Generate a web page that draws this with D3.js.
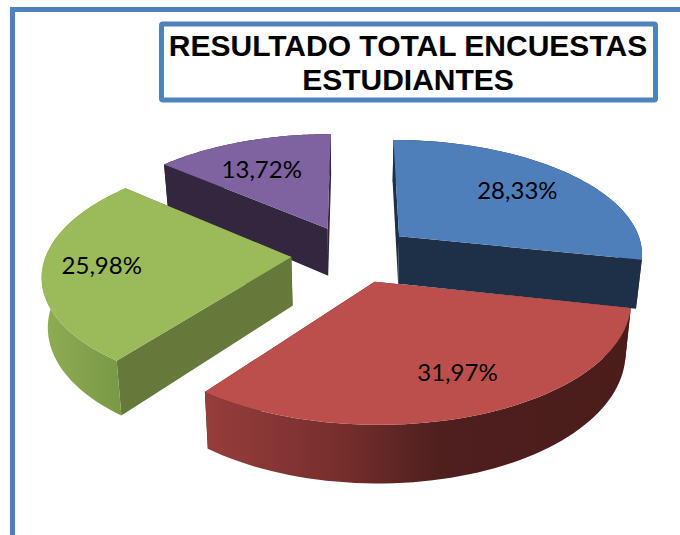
<!DOCTYPE html>
<html><head><meta charset="utf-8">
<script src="https://cdn.jsdelivr.net/npm/d3@7"></script>
<style>html,body{margin:0;padding:0;background:#fff}svg{display:block}</style>
</head><body><svg id="c" width="680" height="535"></svg>
<script>
const categories = ["Azul", "Rojo", "Verde", "Morado"];
const seriesValues = [28.33, 31.97, 25.98, 13.72];
const labels = ["28,33%", "31,97%", "25,98%", "13,72%"];
const titleLines = ["RESULTADO TOTAL ENCUESTAS", "ESTUDIANTES"];
const topColors = ["#4e7fbb", "#bc4f4c", "#9bba59", "#7f62a0"];
const wallColors = ["#1e2f48", "#4a1c1a", "#64793a", "#33263f"];
const rimStops = [
  [["0","#1e2f48"],["1","#1e2f48"]],
  [["0","#963e3c"],["0.32","#762e2c"],["0.55","#4e1f1e"],["1","#4a1c1a"]],
  [["0","#8fad52"],["0.5","#84a24c"],["1","#789744"]],
  [["0","#33263f"],["1","#33263f"]]
];
const drawOrder = [3, 0, 2, 1];
const labelNudge = [[-2,0],[12,3],[-16,0],[-4,4]];

const explode = 0.25, persp = 0.14, depth = 48.5, converge = 0.02, labelR = 0.7;
const sx = d3.scaleLinear().domain([-1, 1]).range([352.5 - 245, 352.5 + 245]);
const sy = d3.scaleLinear().domain([-1, 1]).range([254 + 114.5, 254 - 114.5]);
const project = (X, Y, z = 0) => {
  const w = 1 + persp * Y;
  return [sx(X / w * (1 - converge * z)), sy(Y / w) + z * depth / w];
};
const svg = d3.select("#c");
const defs = svg.append("defs");
const pie = d3.pie().sort(null).value(d => d);
const arcs = pie(seriesValues);
const line = d3.line();

const ground = (a, r, t) => {
  const mid = (a.startAngle + a.endAngle) / 2;
  return [explode * Math.sin(mid) + r * Math.sin(t), explode * Math.cos(mid) + r * Math.cos(t)];
};
const rimAngles = a => d3.range(0, 61).map(i => a.startAngle + (a.endAngle - a.startAngle) * i / 60);

// frame
svg.append("path").attr("d", "M12.5,540V9.5H690").attr("fill", "none").attr("stroke", "#4f81bd").attr("stroke-width", 5);
svg.append("rect").attr("x", 161.5).attr("y", 24).attr("width", 494).attr("height", 76).attr("rx", 1.5)
  .attr("fill", "#fff").attr("stroke", "#4f81bd").attr("stroke-width", 5);
svg.selectAll("text.t").data(titleLines).join("text").attr("class", "t")
  .attr("x", 408).attr("y", (d, i) => 56 + i * 34)
  .attr("text-anchor", "middle").attr("font-family", "Liberation Sans")
  .attr("font-weight", 700).attr("font-size", 30).attr("fill", "#000").text(d => d);

drawOrder.forEach(i => {
  const a = arcs[i];
  const g = svg.append("g").attr("class", "slice").attr("data-cat", categories[i]);
  const apex = ground(a, 0, 0);
  const rim = rimAngles(a).map(t => ground(a, 1, t));
  const gradId = "rim" + i;
  const rimPts = rim.map(p => project(p[0], p[1]));
  const xs = rimPts.map(p => p[0]);
  const grad = defs.append("linearGradient").attr("id", gradId).attr("gradientUnits", "userSpaceOnUse")
    .attr("x1", d3.min(xs)).attr("x2", d3.max(xs)).attr("y1", 0).attr("y2", 0);
  rimStops[i].forEach(s => grad.append("stop").attr("offset", s[0]).attr("stop-color", s[1]));
  const wall = p => [project(apex[0], apex[1]), project(p[0], p[1]), project(p[0], p[1], 1), project(apex[0], apex[1], 1)];
  [rim[0], rim[rim.length - 1]].forEach(p => {
    g.append("path").attr("d", line(wall(p)) + "Z").attr("fill", wallColors[i]);
  });
  const outer = rim.map(p => project(p[0], p[1])).concat(rim.slice().reverse().map(p => project(p[0], p[1], 1)));
  g.append("path").attr("d", line(outer) + "Z").attr("fill", `url(#${gradId})`);
  const top = [project(apex[0], apex[1])].concat(rimPts);
  g.append("path").attr("d", line(top) + "Z").attr("fill", topColors[i]);
});

arcs.forEach((a, i) => {
  const mid = (a.startAngle + a.endAngle) / 2;
  const p = ground(a, labelR, mid);
  const q = project(p[0], p[1]);
  svg.append("text").attr("x", q[0] + labelNudge[i][0]).attr("y", q[1] + labelNudge[i][1] + 8)
    .attr("text-anchor", "middle").attr("font-family", "Lato").attr("font-size", 24).attr("fill", "#000").text(labels[i]);
});
</script></body></html>
